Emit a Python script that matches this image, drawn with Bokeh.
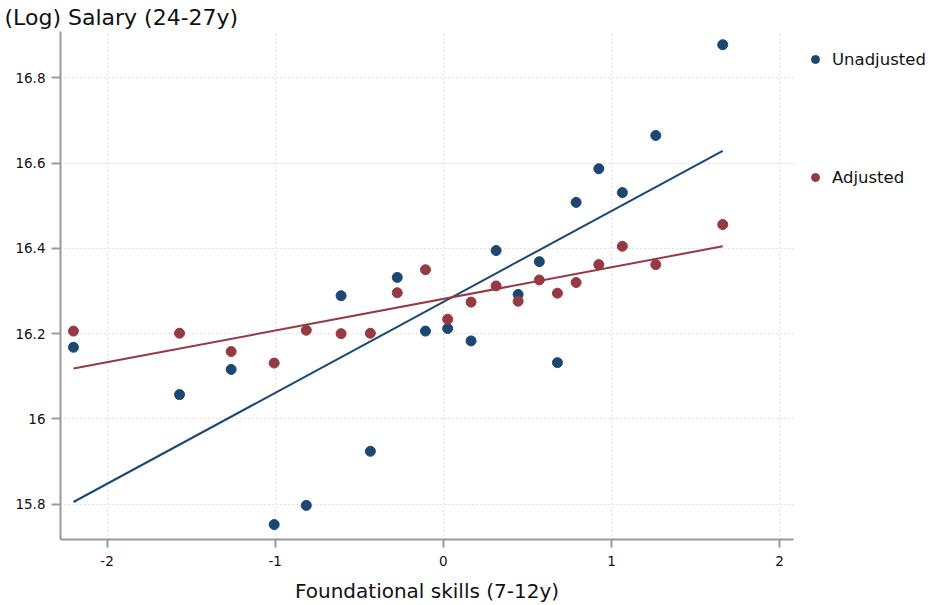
from bokeh.plotting import figure
from bokeh.models import Range1d, FixedTicker, Legend, LegendItem
from bokeh.embed import file_html
from bokeh.resources import INLINE

# ---- data ----
skills = [-2.200, -1.569, -1.262, -1.006, -0.815, -0.608, -0.434, -0.274, -0.106,
          0.026, 0.165, 0.314, 0.445, 0.571, 0.679, 0.790, 0.925, 1.065, 1.264, 1.662]
unadjusted = [16.168, 16.057, 16.116, 15.752, 15.797, 16.289, 15.924, 16.332, 16.206,
              16.212, 16.183, 16.395, 16.292, 16.369, 16.132, 16.508, 16.587, 16.531,
              16.665, 16.878]
adjusted = [16.206, 16.201, 16.158, 16.131, 16.208, 16.200, 16.201, 16.296, 16.350,
            16.234, 16.274, 16.312, 16.276, 16.326, 16.295, 16.320, 16.362, 16.405,
            16.362, 16.456]
fit_x = [-2.200, 1.662]
fit_unadjusted = [15.805, 16.629]
fit_adjusted = [16.118, 16.405]

x_ticks = [-2, -1, 0, 1, 2]
x_tick_labels = ["-2", "-1", "0", "1", "2"]
y_ticks = [15.8, 16, 16.2, 16.4, 16.6, 16.8]
y_tick_labels = ["15.8", "16", "16.2", "16.4", "16.6", "16.8"]

title_text = "(Log) Salary (24-27y)"
x_label = "Foundational skills (7-12y)"
series_names = ["Unadjusted", "Adjusted"]

BLUE = "#1b4872"
RED = "#953a43"
FONT = "DejaVu Sans"

p = figure(frame_width=733, frame_height=508, output_backend="svg", toolbar_location=None,
           x_range=Range1d(-2.277, 2.083), y_range=Range1d(15.717, 16.909),
           min_border_left=60, min_border_right=120, min_border_top=31,
           min_border_bottom=60)
p.outline_line_color = None
p.background_fill_color = "white"
p.border_fill_color = "white"

# title
p.title.text = title_text
p.title.align = "left"
p.title.offset = -56
p.title.standoff = 3
p.title.text_font = FONT
p.title.text_font_size = "22px"
p.title.text_font_style = "normal"
p.title.text_color = "#111111"

# grids
for g in (p.xgrid, p.ygrid):
    g.grid_line_color = "#c4c4c4"
    g.grid_line_dash = "1 3"
    g.grid_line_width = 1
p.xgrid.ticker = FixedTicker(ticks=x_ticks)
p.ygrid.ticker = FixedTicker(ticks=y_ticks)

# axes
p.xaxis.ticker = FixedTicker(ticks=x_ticks)
p.yaxis.ticker = FixedTicker(ticks=y_ticks)
p.xaxis.major_label_overrides = dict(zip(x_ticks, x_tick_labels))
p.yaxis.major_label_overrides = dict(zip(y_ticks, y_tick_labels))
for ax in (p.xaxis, p.yaxis):
    ax.axis_line_color = "#9a9a9a"
    ax.axis_line_width = 2
    ax.major_tick_line_color = "#9a9a9a"
    ax.major_tick_line_width = 2
    ax.major_tick_in = 0
    ax.major_tick_out = 8
    ax.minor_tick_line_color = None
    ax.major_label_text_font = FONT
    ax.major_label_text_font_size = "13.5px"
    ax.major_label_text_color = "#111111"
    ax.major_label_standoff = 8
p.yaxis.major_tick_out = 9
p.yaxis.major_label_standoff = 6
p.xaxis.axis_label = x_label
p.xaxis.axis_label_text_font = FONT
p.xaxis.axis_label_text_font_size = "20px"
p.xaxis.axis_label_text_font_style = "normal"
p.xaxis.axis_label_text_color = "#111111"
p.xaxis.axis_label_standoff = 10

# fitted lines
p.line(fit_x, fit_unadjusted, line_color=BLUE, line_width=2)
p.line(fit_x, fit_adjusted, line_color=RED, line_width=2)

# points
r_u = p.scatter(skills, unadjusted, size=10, fill_color=BLUE, line_color=BLUE)
r_a = p.scatter(skills, adjusted, size=10, fill_color=RED, line_color=RED)

legend = Legend(items=[LegendItem(label=series_names[0], renderers=[r_u]),
                       LegendItem(label=series_names[1], renderers=[r_a])],
                location="top_left", orientation="vertical")
legend.margin = 12
legend.padding = 0
legend.spacing = 86
legend.glyph_width = 20
legend.glyph_height = 20
legend.label_height = 32
legend.label_standoff = 7
legend.label_text_font = FONT
legend.label_text_font_size = "16.5px"
legend.label_text_color = "#111111"
legend.border_line_color = None
legend.background_fill_alpha = 0
p.add_layout(legend, "right")

open("out.html", "w").write(file_html(p, INLINE))
